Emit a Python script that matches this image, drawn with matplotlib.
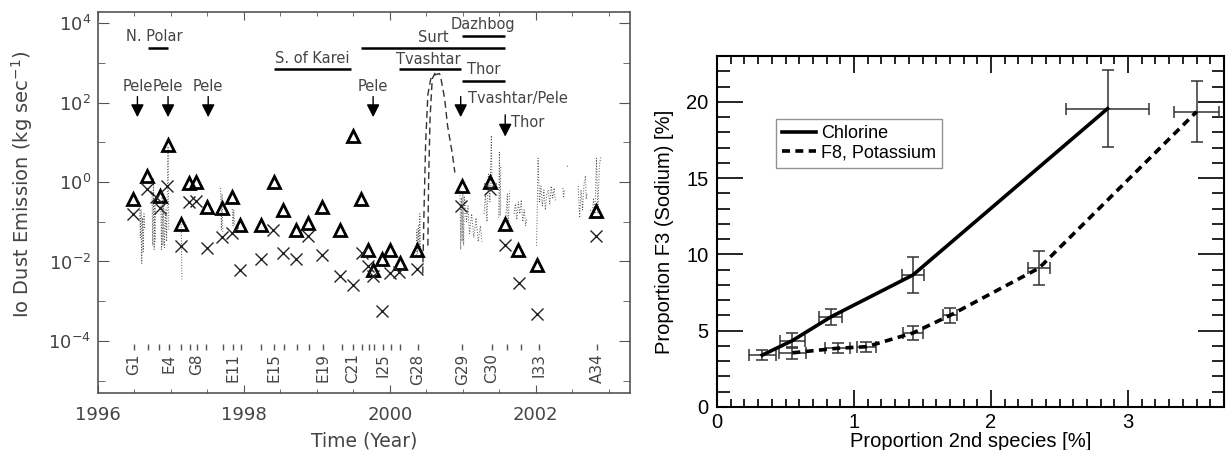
import numpy as np
import matplotlib
matplotlib.use('Agg')
import matplotlib.pyplot as plt
from matplotlib import ticker
from matplotlib.transforms import blended_transform_factory

# ---------------- left panel: Io dust emission ----------------
# triangles (upper estimate) and crosses (lower estimate), kg/s
tri_t = [1996.48, 1996.67, 1996.85, 1996.96, 1997.14, 1997.25, 1997.34, 1997.49,
         1997.70, 1997.84, 1997.94, 1998.23, 1998.41, 1998.53, 1998.71, 1998.88,
         1999.07, 1999.32, 1999.49, 1999.61, 1999.70, 1999.77, 1999.89, 2000.00,
         2000.14, 2000.37, 2000.99, 2001.37, 2001.58, 2001.76, 2002.02, 2002.82]
tri_v = [0.37, 1.4, 0.45, 8.7, 0.087, 0.93, 1.0, 0.23,
         0.22, 0.43, 0.083, 0.083, 1.0, 0.20, 0.062, 0.091,
         0.24, 0.062, 14.5, 0.38, 0.019, 0.0062, 0.0115, 0.019,
         0.0093, 0.019, 0.81, 0.98, 0.087, 0.0195, 0.0081, 0.19]

crs_t = [1996.48, 1996.67, 1996.80, 1996.85, 1996.95, 1997.14, 1997.25, 1997.34,
         1997.49, 1997.70, 1997.84, 1997.94, 1998.23, 1998.40, 1998.53, 1998.72,
         1998.88, 1999.07, 1999.32, 1999.49, 1999.62, 1999.70, 1999.77, 1999.89,
         2000.00, 2000.13, 2000.37, 2000.98, 2001.37, 2001.58, 2001.77, 2002.02, 2002.82]
crs_v = [0.155, 0.65, 0.41, 0.22, 0.78, 0.024, 0.32, 0.34,
         0.022, 0.042, 0.051, 0.006, 0.0117, 0.062, 0.0166, 0.0117,
         0.044, 0.015, 0.0043, 0.0026, 0.016, 0.0078, 0.0043, 0.00056,
         0.005, 0.0055, 0.0066, 0.25, 0.66, 0.026, 0.0028, 0.00048, 0.044]

# daily rates (dotted), log10(kg/s); nan separates data gaps
dds_t = [1996.57, 1996.58, 1996.59, 1996.60, 1996.61, 1996.62, 1996.63, 1996.64, np.nan,
         1996.74, 1996.75, 1996.76, 1996.77, 1996.78, 1996.79, np.nan,
         1996.86, 1996.87, 1996.88, 1996.89, 1996.90, 1996.91, 1996.93, 1996.94, 1996.96, 1996.97, np.nan,
         1997.14, 1997.15, np.nan,
         1997.68, 1997.69, 1997.70, 1997.71, np.nan,
         1997.84, 1997.85, 1997.86, 1997.87, np.nan,
         2000.36, 2000.37, 2000.38, 2000.39, 2000.40, 2000.41, 2000.42, np.nan,
         2000.96, 2000.97, 2000.98, 2000.99, 2001.00, 2001.01, 2001.02, 2001.05, 2001.07,
         2001.09, 2001.12, 2001.15, 2001.18, 2001.21, 2001.24, 2001.26, np.nan,
         2001.29, 2001.31, 2001.33, 2001.35, 2001.37, 2001.39, 2001.40, np.nan,
         2001.49, 2001.50, 2001.51, 2001.52, np.nan,
         2001.59, 2001.61, 2001.62, 2001.64, np.nan,
         2001.70, 2001.72, 2001.74, 2001.76, 2001.78, 2001.80, 2001.82, 2001.84, 2001.86, 2001.88, np.nan,
         2002.01, 2002.03, 2002.05, 2002.07, 2002.09, 2002.11, 2002.13, 2002.15, 2002.17,
         2002.19, 2002.21, 2002.23, 2002.25, 2002.27, np.nan,
         2002.37, 2002.38, 2002.39, np.nan,
         2002.43, 2002.435, np.nan,
         2002.58, 2002.60, 2002.62, 2002.64, 2002.66, 2002.68, 2002.69, 2002.70, np.nan,
         2002.75, 2002.77, 2002.79, 2002.81, 2002.83, 2002.85, 2002.87, 2002.89]
dds_log = [-0.5, -1.4, -0.7, -2.05, -0.9, -1.75, -0.8, -1.2, np.nan,
           -0.3, -1.6, 0.1, -1.7, -0.5, -1.5, np.nan,
           -0.6, -1.7, -0.3, -1.6, -0.4, -1.65, -0.7, -1.5, 0.9, -1.2, np.nan,
           -1.06, -2.45, np.nan,
           -0.15, -1.2, -0.3, -1.25, np.nan,
           -0.68, -1.1, -0.7, -1.1, np.nan,
           -1.9, -1.2, -1.8, -1.1, -1.6, -0.8, -1.9, np.nan,
           -0.2, -1.7, -0.4, -1.5, -0.3, -1.6, -0.35, -1.0, -0.6,
           -1.3, -0.8, -1.4, -0.9, -1.5, -1.1, -1.5, np.nan,
           -0.8, -0.3, -1.0, 0.2, -0.5, 1.17, -0.2, np.nan,
           -0.9, 0.75, -0.85, 0.4, np.nan,
           -0.85, -0.3, -1.19, -0.22, np.nan,
           -0.8, -0.55, -0.95, -0.5, -0.8, -0.45, -1.0, -0.7, -1.1, -0.9, np.nan,
           -1.6, 0.6, -0.5, -0.1, -0.6, -0.2, -0.7, -0.3, -0.2,
           -0.55, -0.1, -0.4, -0.15, -0.5, np.nan,
           -0.15, -0.4, -0.2, np.nan,
           0.41, 0.38, np.nan,
           -0.1, -0.9, -0.2, -0.7, -0.05, 0.16, -0.43, -0.3, np.nan,
           -0.7, -0.95, -0.4, -0.8, 0.6, -0.77, 0.4, 0.62]

# dashed: late-2000 outburst, log10(kg/s)
peak_t = [2000.45, 2000.47, 2000.49, 2000.52, 2000.56, 2000.62, 2000.68,
          2000.70, 2000.75, 2000.79, 2000.86, 2000.89]
peak_log = [-2.3, -0.5, 1.0, 2.2, 2.6, 2.7, 2.73, 2.6, 2.1, 1.42, 0.66, 0.24]
peak2_t = [2000.52, 2000.53, 2000.55, 2000.58, 2000.62]
peak2_log = [-1.6, 0.0, 1.6, 2.6, 2.75]

flyby_names = ['G1', 'G2', 'C3', 'E4', 'E6', 'G7', 'G8', 'C9', 'C10', 'E11', 'E12',
               'E14', 'E15', 'E16', 'E17', 'E18', 'E19', 'C20', 'C21', 'C22', 'C23',
               'I24', 'I25', 'E26', 'I27', 'G28', 'G29', 'C30', 'I31', 'I32', 'I33', 'A34']
flyby_t = [1996.49, 1996.68, 1996.84, 1996.97, 1997.14, 1997.26, 1997.35, 1997.48,
           1997.71, 1997.85, 1997.96, 1998.24, 1998.41, 1998.55, 1998.73, 1998.89,
           1999.08, 1999.34, 1999.49, 1999.62, 1999.71, 1999.78, 1999.90, 2000.01,
           2000.14, 2000.38, 2000.99, 2001.40, 2001.60, 2001.79, 2002.04, 2002.84]
flyby_shown = ['G1', 'E4', 'G8', 'E11', 'E15', 'E19', 'C21', 'I25', 'G28',
               'G29', 'C30', 'I33', 'A34']

plume_names = ['N. Polar', 'S. of Karei', 'Surt', 'Dazhbog', 'Tvashtar', 'Thor']
plume_start = [1996.68, 1998.41, 1999.61, 2000.99, 2000.13, 2000.99]
plume_end = [1996.96, 1999.47, 2001.58, 2001.58, 2000.98, 2001.58]

event_names = ['Pele', 'Pele', 'Pele', 'Pele', 'Tvashtar/Pele', 'Thor']
event_t = [1996.54, 1996.96, 1997.51, 1999.77, 2000.97, 2001.58]

# ---------------- right panel ----------------
cl_x = [0.33, 0.55, 0.83, 1.43, 2.85]
cl_y = [3.4, 4.35, 5.9, 8.65, 19.55]
cl_xerr = [0.1, 0.09, 0.085, 0.08, 0.305]
cl_yerr = [0.35, 0.48, 0.55, 1.18, 2.54]

k_x = [0.55, 0.88, 1.09, 1.43, 1.70, 2.35, 3.50]
k_y = [3.55, 3.85, 3.95, 4.85, 6.0, 9.1, 19.35]
k_xerr = [0.1, 0.09, 0.07, 0.075, 0.05, 0.08, 0.165]
k_yerr = [0.4, 0.33, 0.33, 0.47, 0.5, 1.1, 2.0]


def draw_io(ax):
    gray = '#444444'
    ax.plot(dds_t, 10.0 ** np.array(dds_log), ls=(0, (1, 1.8)), lw=0.7, color='#555555')
    ax.plot(peak_t, 10.0 ** np.array(peak_log), ls=(0, (5, 3)), lw=1.0, color='#333333')
    ax.plot(peak2_t, 10.0 ** np.array(peak2_log), ls=(0, (5, 3)), lw=1.0, color='#333333')
    ax.plot(tri_t, tri_v, ls='none', marker='^', ms=8, mfc='none', mec='k', mew=2.0)
    ax.plot(crs_t, crs_v, ls='none', marker='x', ms=8, mec='#222222', mew=1.0)

    ax.set_yscale('log')
    ax.set_xlim(1996, 2003.29)
    ax.set_ylim(10 ** -5.31, 10 ** 4.28)
    ax.yaxis.set_major_locator(ticker.FixedLocator([1e-4, 1e-2, 1e0, 1e2, 1e4]))
    ax.yaxis.set_minor_locator(ticker.FixedLocator([1e-5, 1e-3, 1e-1, 1e1, 1e3]))
    ax.yaxis.set_major_formatter(ticker.FuncFormatter(
        lambda v, p: r'$10^{%d}$' % int(round(np.log10(v)))))
    ax.yaxis.set_minor_formatter(ticker.NullFormatter())
    ax.xaxis.set_major_locator(ticker.MultipleLocator(2))
    ax.xaxis.set_minor_locator(ticker.MultipleLocator(0.5))
    ax.tick_params(which='both', direction='in', top=True, right=True,
                   color='#555555', labelcolor=gray, labelsize=13)
    ax.tick_params(axis='x', which='major', length=6, pad=9)
    ax.tick_params(axis='x', which='minor', length=3)
    ax.tick_params(axis='y', which='major', length=8, pad=5)
    ax.tick_params(axis='y', which='minor', length=5)
    for s in ax.spines.values():
        s.set_color('#555555')
        s.set_linewidth(1.2)

    ax.set_xlabel('Time (Year)', fontsize=13.5, color=gray)
    ax.xaxis.set_label_coords(0.5, -0.125)
    ax.xaxis.label.set_va('center')
    ax.set_ylabel(r'Io Dust Emission (kg sec$^{-1}$)', fontsize=14, color=gray)
    ax.yaxis.set_label_coords(-0.143, 0.549)
    ax.yaxis.label.set_va('center')

    tr = blended_transform_factory(ax.transData, ax.transAxes)
    # flyby ticks and labels
    ax.vlines(flyby_t, 0.113, 0.129, transform=tr, color='#555555', lw=1)
    for name, t in zip(flyby_names, flyby_t):
        if name in flyby_shown:
            ax.text(t, 0.104, name, transform=tr, rotation=90, ha='center',
                    va='top', fontsize=11, color=gray)

    # plume activity bars
    bar_y = [0.906, 0.850, 0.905, 0.937, 0.850, 0.820]
    text_pos = [(1996.77, 0.935), (1998.93, 0.877), (2000.60, 0.934),
                (2001.28, 0.966), (2000.53, 0.876), (2001.29, 0.850)]
    for name, t0, t1, y, (tx, ty) in zip(plume_names, plume_start, plume_end,
                                          bar_y, text_pos):
        ax.plot([t0, t1], [y, y], transform=tr, color='k', lw=1.8,
                solid_capstyle='butt')
        ax.text(tx, ty, name, transform=tr, ha='center', va='center',
                fontsize=10.5, color=gray)

    # event arrows
    arrow_y = [(0.778, 0.724)] * 5 + [(0.730, 0.673)]
    for i, (name, t) in enumerate(zip(event_names, event_t)):
        y0, y1 = arrow_y[i]
        ax.annotate('', xy=(t, y1), xytext=(t, y0), xycoords=tr, textcoords=tr,
                    arrowprops=dict(arrowstyle='-|>,head_length=0.55,head_width=0.28',
                                    color='k', lw=1.0, shrinkA=0, shrinkB=0,
                                    mutation_scale=14))
        if name == 'Pele':
            ax.text(t, 0.804, name, transform=tr, ha='center', va='center',
                    fontsize=10.5, color=gray)
        elif name == 'Thor':
            ax.text(2001.66, 0.709, name, transform=tr, ha='left', va='center',
                    fontsize=10.5, color=gray)
        else:
            ax.text(2001.07, 0.772, name, transform=tr, ha='left', va='center',
                    fontsize=10.5, color=gray)


def draw_sodium(ax):
    ax.errorbar(cl_x, cl_y, xerr=cl_xerr, yerr=cl_yerr, fmt='none',
                ecolor='#333333', elinewidth=1.1, capsize=4, capthick=1.1)
    ax.errorbar(k_x, k_y, xerr=k_xerr, yerr=k_yerr, fmt='none',
                ecolor='#333333', elinewidth=1.1, capsize=4, capthick=1.1)
    ax.plot(cl_x, cl_y, color='k', lw=2.6, label='Chlorine')
    ax.plot(k_x, k_y, color='k', lw=2.6, ls=(0, (2.2, 1.5)), label='F8, Potassium')

    ax.set_xlim(0, 3.7)
    ax.set_ylim(0, 23)
    ax.xaxis.set_major_locator(ticker.MultipleLocator(1))
    ax.xaxis.set_minor_locator(ticker.MultipleLocator(0.1))
    ax.yaxis.set_major_locator(ticker.MultipleLocator(5))
    ax.yaxis.set_minor_locator(ticker.MultipleLocator(1))
    ax.tick_params(which='both', direction='in', top=True, right=True,
                   labelsize=14.5, width=1.2)
    ax.tick_params(axis='x', which='major', length=12, pad=4)
    ax.tick_params(axis='x', which='minor', length=6)
    ax.tick_params(axis='y', which='major', length=19, pad=6)
    ax.tick_params(axis='y', which='minor', length=9)
    for s in ax.spines.values():
        s.set_linewidth(1.5)

    ax.set_xlabel('Proportion 2nd species [%]', fontsize=14.5)
    ax.xaxis.set_label_coords(0.5, -0.097)
    ax.xaxis.label.set_va('center')
    ax.set_ylabel('Proportion F3 (Sodium) [%]', fontsize=14.5)
    ax.yaxis.set_label_coords(-0.103, 0.5)
    ax.yaxis.label.set_va('center')

    leg = ax.legend(loc='upper left', bbox_to_anchor=(0.116, 0.82),
                    borderaxespad=0, fontsize=13, handlelength=1.9,
                    handletextpad=0.25, borderpad=0.35, labelspacing=0.1,
                    fancybox=False, frameon=True)
    leg.get_frame().set_edgecolor('#777777')
    leg.get_frame().set_linewidth(1.0)


def main():
    fig = plt.figure(figsize=(12.26, 4.5), dpi=100)
    ax1 = fig.add_axes([98 / 1226, 57 / 450, 532 / 1226, 381 / 450])
    ax2 = fig.add_axes([717 / 1226, 43 / 450, 507 / 1226, 351 / 450])

    draw_io(ax1)
    draw_sodium(ax2)
    for t in ax2.get_xticklabels() + ax2.get_yticklabels() + \
            [ax2.xaxis.label, ax2.yaxis.label] + ax2.get_legend().get_texts():
        t.set_family('Liberation Sans')

    fig.savefig('out.png', dpi=100)


if __name__ == '__main__':
    main()
